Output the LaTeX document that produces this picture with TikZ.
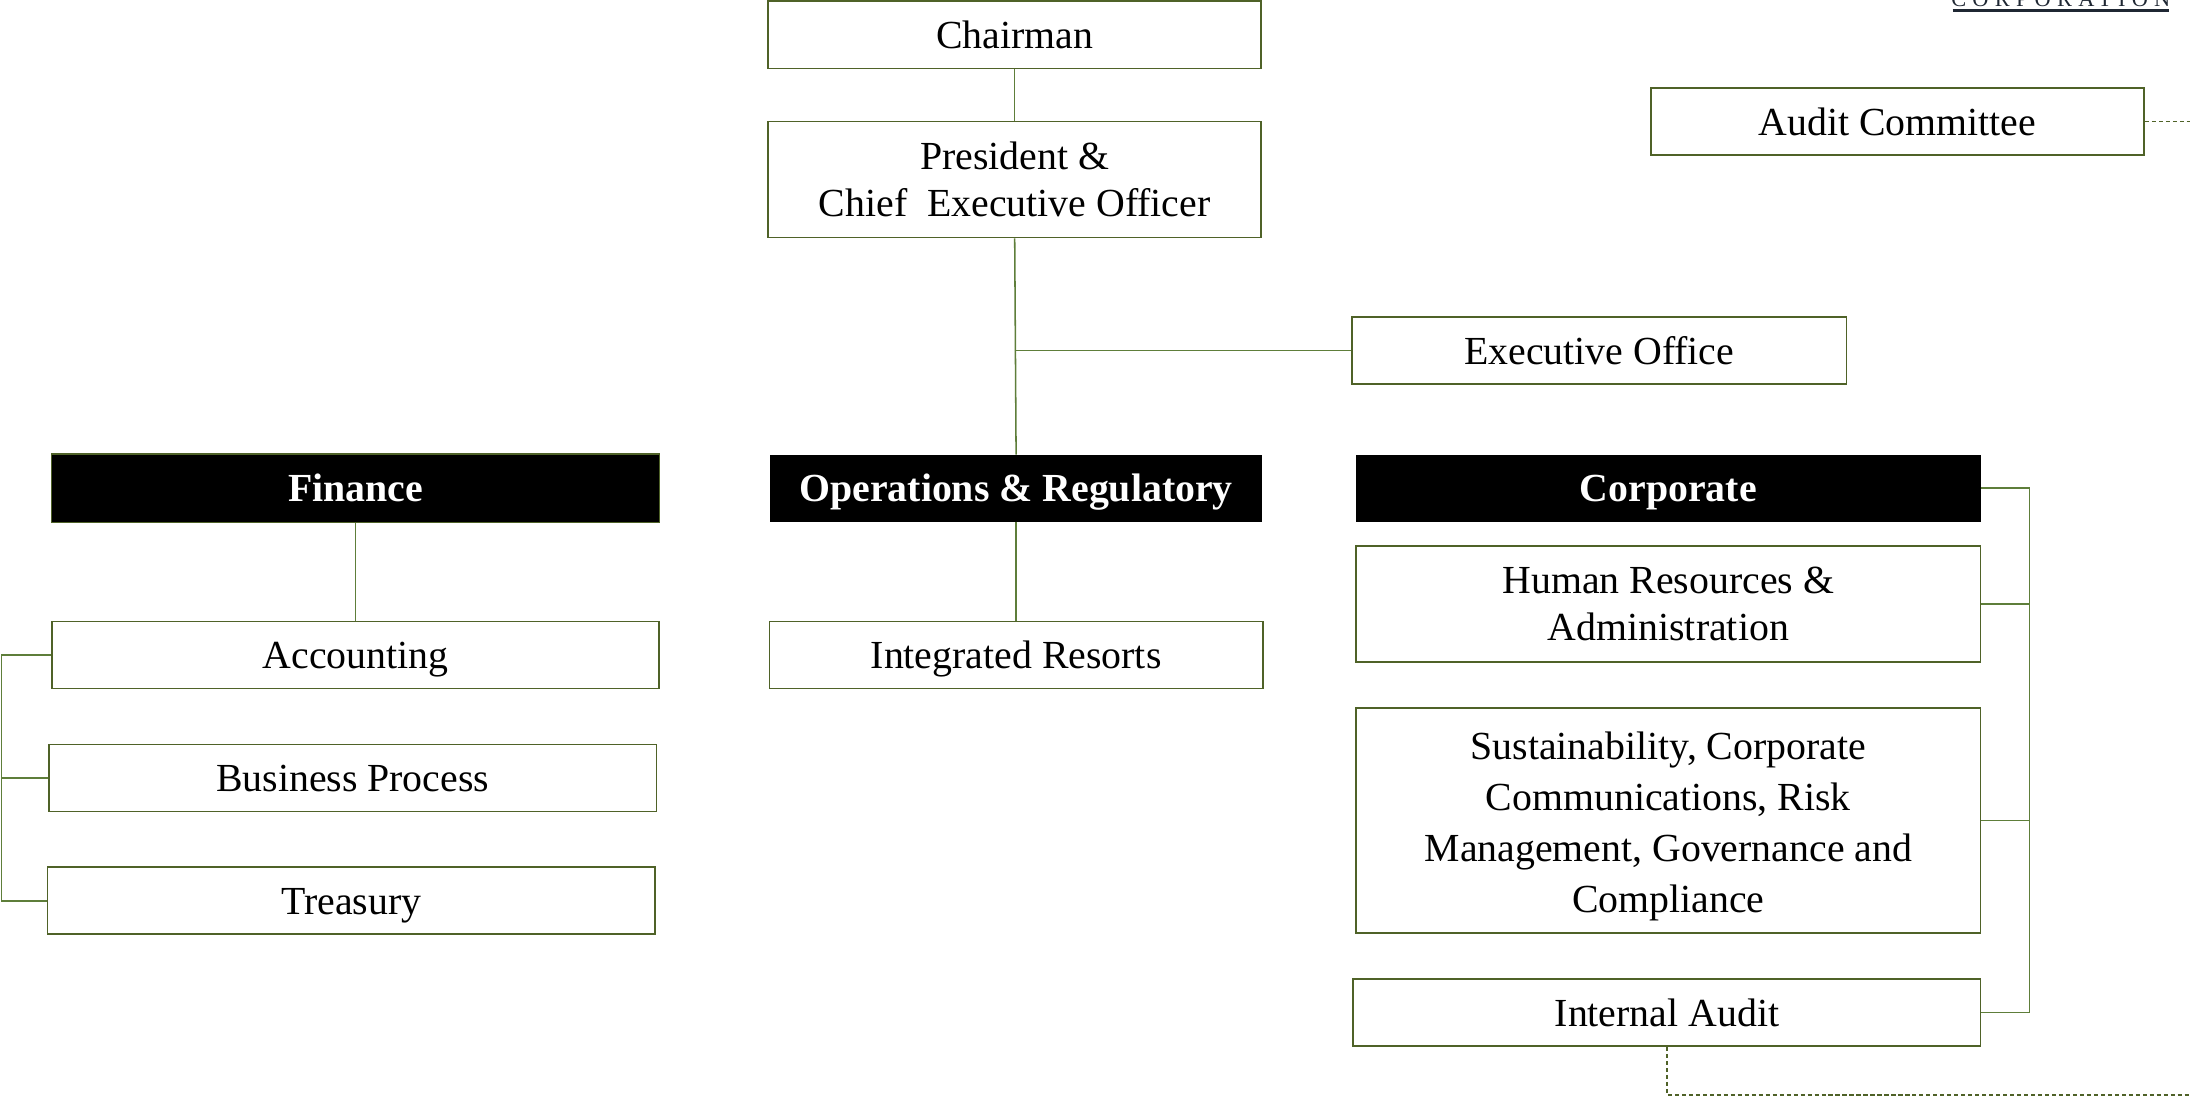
\documentclass[tikz,border=0pt]{standalone}
\usepackage{fontspec}
\setmainfont{Liberation Serif}
\definecolor{boxgreen}{HTML}{4F6228}
\definecolor{linegreen}{HTML}{5E7E3A}
\definecolor{darkink}{HTML}{1F2733}
\begin{document}
\begin{tikzpicture}[x=1pt,y=-1pt,
  box/.style={draw=boxgreen,line width=1.3pt,fill=white,inner sep=0pt,align=center,
    font=\fontsize{28.5}{34}\selectfont},
  one/.style={text height=19.5pt,text depth=0pt},
  head/.style={draw=black,line width=1pt,fill=black,text=white,inner sep=0pt,align=center,
    text height=19.5pt,text depth=0pt,font=\fontsize{28.5}{34}\selectfont\bfseries},
  conn/.style={draw=linegreen,line width=1.1pt},
  dconn/.style={draw=boxgreen,line width=1pt,dash pattern=on 3pt off 2pt}]
\clip (0,0) rectangle (1568,785);
\useasboundingbox (0,0) rectangle (1568,785);

\node[font=\fontsize{16}{18}\selectfont\addfontfeature{LetterSpace=28},text=darkink,
  anchor=base,inner sep=0pt] (corpname) at (1475.5,4.5) {CORPORATION};
\draw[darkink,line width=1.6pt] (1398,7.5) -- (1553,7.5);

\node[box,one,minimum width=353pt,minimum height=48pt] (chair) at (726.5,25) {Chairman};
\node[box,minimum width=353pt,minimum height=83pt] (pres) at (726.5,128.5) {President \&\\Chief~ Executive Officer};
\node[box,one,minimum width=354pt,minimum height=48pt] (exec) at (1145,251) {Executive Office};
\node[box,one,minimum width=353pt,minimum height=48pt] (audit) at (1358.5,87) {Audit Committee};

\node[head,draw=boxgreen,minimum width=435pt,minimum height=49pt] (fin) at (254.5,349.5) {Finance};
\node[head,minimum width=351pt,minimum height=47pt] (ops) at (727.5,349.5) {Operations \& Regulatory};
\node[head,minimum width=447pt,minimum height=47pt] (corp) at (1194.5,349.5) {Corporate};

\node[box,one,minimum width=435pt,minimum height=48pt] (acc) at (254.5,469) {Accounting};
\node[box,one,minimum width=435pt,minimum height=48pt] (bp) at (252.5,557) {Business Process};
\node[box,one,minimum width=435pt,minimum height=48pt] (tre) at (251.5,645) {Treasury};

\node[box,one,minimum width=353pt,minimum height=48pt] (ir) at (727.5,469) {Integrated Resorts};

\node[box,minimum width=447pt,minimum height=83pt] (hr) at (1194.5,432.5) {Human Resources \&\\Administration};
\node[box,minimum width=447pt,minimum height=161pt,font=\fontsize{28.5}{36.5}\selectfont] (sus) at (1194.5,587.5)
  {\rule{0pt}{28pt}Sustainability, Corporate\\Communications, Risk\\Management, Governance and\\Compliance};
\node[box,one,minimum width=449pt,minimum height=48pt] (ia) at (1193.5,725) {Internal Audit};

% coordinates for connector bends
\coordinate (br) at (726.5,251);
\coordinate (lbtop) at (1,469);
\coordinate (lbmid) at (1,557);
\coordinate (lbbot) at (1,645);
\coordinate (rbtop) at (1453,349.5);
\coordinate (rbhr) at (1453,432.5);
\coordinate (rbsus) at (1453,587.5);
\coordinate (rbbot) at (1453,725);
\coordinate (acedge) at (1570,87);
\coordinate (iacorner) at (1193.5,784);
\coordinate (iaedge) at (1570,784);

\draw[conn] (chair.south) -- (pres.north);
\draw[conn] (pres.south) -- (ops.north);
\draw[conn] (br) -- (exec.west);
\draw[conn] (fin.south) -- (acc.north);
\draw[conn] (ops.south) -- (ir.north);
\draw[conn] (acc.west) -- (lbtop) -- (lbbot) -- (tre.west);
\draw[conn] (bp.west) -- (lbmid);
\draw[conn] (corp.east) -- (rbtop) -- (rbbot) -- (ia.east);
\draw[conn] (hr.east) -- (rbhr);
\draw[conn] (sus.east) -- (rbsus);
\draw[dconn] (audit.east) -- (acedge);
\draw[dconn] (ia.south) -- (iacorner) -- (iaedge);
\end{tikzpicture}
\end{document}
